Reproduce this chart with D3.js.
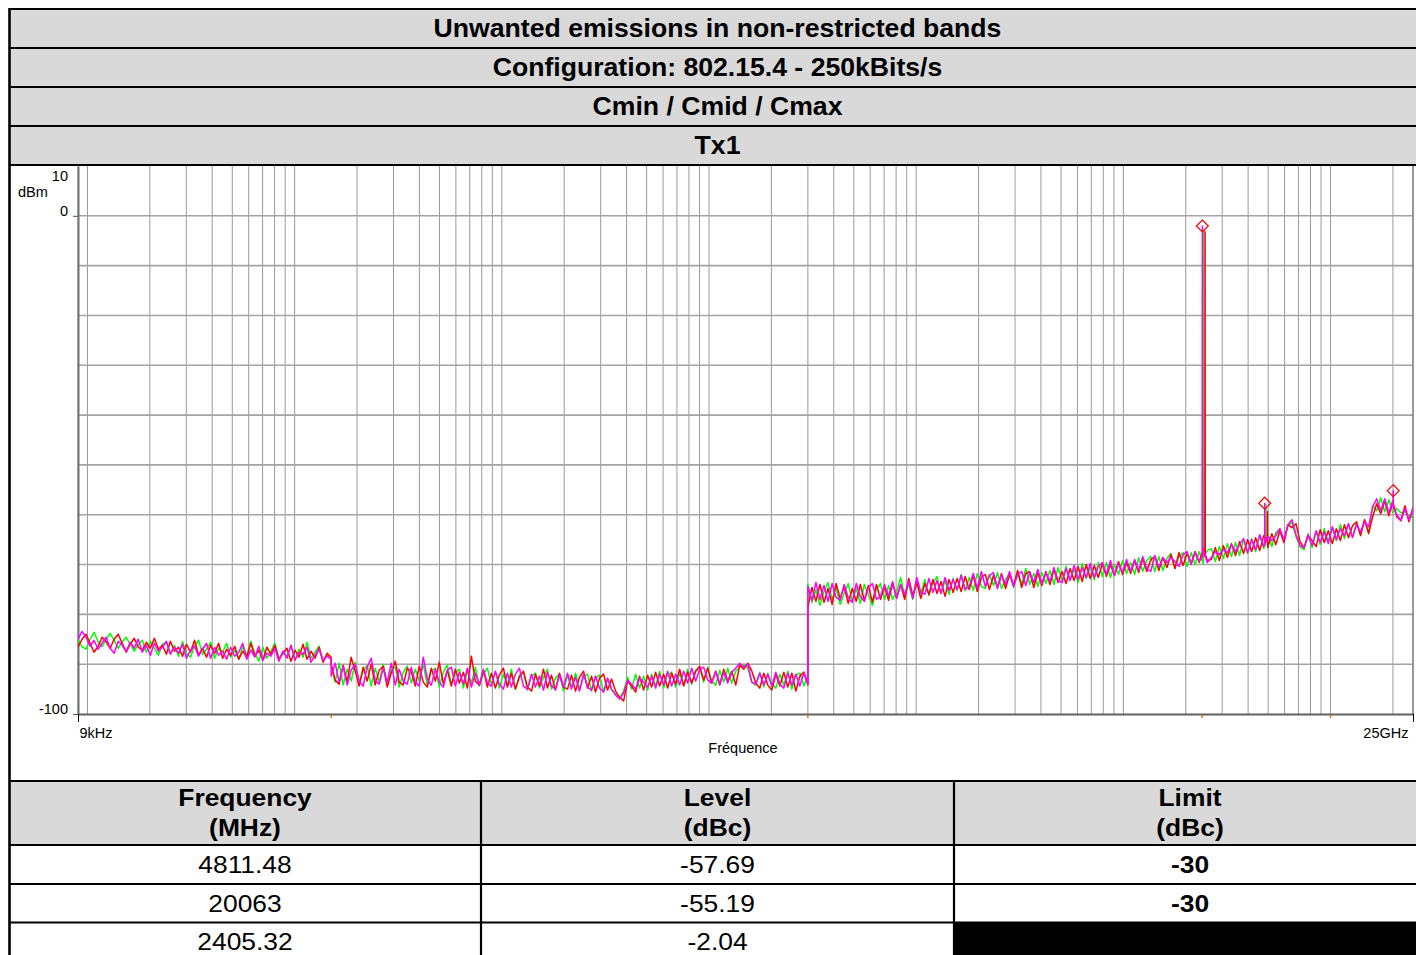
<!DOCTYPE html>
<html>
<head>
<meta charset="utf-8">
<script src="https://cdn.jsdelivr.net/npm/d3@7"></script>
<style>
  html, body { margin: 0; padding: 0; background: #fff; }
  svg { display: block; font-family: "Liberation Sans", Arial, sans-serif; }
</style>
</head>
<body>
<div id="chart"></div>
<script>
// ---- texts ----
const titleLines = ["Unwanted emissions in non-restricted bands", "Configuration: 802.15.4 - 250kBits/s", "Cmin / Cmid / Cmax", "Tx1"];
const yTickValues = [10, 0, -100];
const yUnit = "dBm";
const xTickValues = [0.009, 25000];          // MHz
const xTickLabels = ["9kHz", "25GHz"];
const xTitle = "Fréquence";
const bandEdgeTicks = [0.15, 30, 2400, 10000]; // MHz, small orange marks

// ---- sweep bands (MHz) ----
const bandsMHz = [[0.009, 0.15], [0.15, 30], [30, 25000]];

// ---- trace levels (dBm), one array per band ----
const greenA = [-85,-86.5,-87,-85,-83.6,-85.5,-86.5,-85,-83.8,-85.2,-86.8,-85.5,-84.6,-86,-87.4,-86,-85.2,-87.6,-85.4,-86.8,-88.2,-86,-85.6,-87.8,-86.2,-88.4,-85.5,-87.8,-88.6,-86.4,-85.2,-88,-87,-85.6,-88.8,-86.8,-87.6,-85.8,-88.6,-87.2,-89,-86.4,-88.2,-85.4,-87.8,-89.4,-86.6,-88.8,-87.4,-85.8,-89,-87.6,-88.4,-86.2,-89.2,-87,-88.6,-85.6,-88.8,-87.6,-86.4,-89.4,-88,-89.2];
const redA = [-86.6,-85,-84,-85.8,-87.6,-86.4,-84.6,-85.5,-86.8,-85,-84,-85.8,-87.6,-86,-84.8,-86.6,-87.2,-85.6,-86.8,-84.8,-87,-86.2,-88,-85.4,-87.4,-86.6,-88.4,-86,-87.6,-85.2,-88.2,-86.8,-88.6,-86.2,-87.8,-85.8,-88.8,-87,-88.2,-86.4,-89,-87.4,-88.6,-85.8,-88.4,-87.2,-89.2,-86.6,-88,-86.2,-89,-87.8,-86.8,-89.4,-87.2,-88.6,-86,-89,-87.4,-88.8,-86.6,-89.6,-87.8,-88.6];
const magentaA = [-85,-83.4,-84.6,-86.4,-85.2,-87,-85.8,-84.6,-86.8,-87.8,-85.4,-86.2,-87.4,-85.6,-86.8,-85,-87.6,-86.2,-88.2,-85.8,-87.4,-86.6,-85.4,-88,-86.6,-87.8,-86,-88.8,-87.2,-86.4,-88.4,-87,-85.8,-88.8,-86.6,-88.2,-87.4,-89,-86.6,-88.4,-87.6,-85.8,-89,-87.2,-88.6,-86.4,-89.2,-87.8,-88.4,-86.8,-89.4,-87.4,-88.8,-86.2,-89.2,-87.6,-88,-86.6,-89.6,-88.2,-87,-89.2,-88.4,-89];

const greenB = [-90.2,-93.6,-89.8,-94.2,-91,-93.4,-89.6,-93.8,-91.4,-90.2,-94.4,-90.8,-93.6,-90,-94,-91.2,-90.6,-94.6,-91.6,-90.4,
  -93.8,-91,-93.4,-90,-94.2,-91.4,-90.8,-94.6,-91.6,-90.2,-94,-91.8,-91,-94.8,-91.4,-93.8,-90.6,-94.4,-92,-90.8,
  -94.2,-91.6,-94.8,-92,-94.4,-91,-95,-92.2,-91.6,-95.2,-92.4,-91.8,-94.8,-92.6,-91,-95,-92.8,-92,-95.4,-92.2,
  -94.6,-91.8,-95,-92.6,-92,-95.4,-92.8,-92.2,-95.6,-93,-95.2,-96,-96.8,-95.4,-92.6,-95,-92,-94.8,-92.4,-95.2,
  -92,-94.4,-91.4,-94.8,-92.2,-91.6,-94.6,-91.8,-94.2,-91,-94,-91.2,-90.8,-93.6,-90.6,-93.4,-94.2,-91.2,-93.6,-90.8,
  -93.8,-91.4,-90.6,-90,-90.8,-93.6,-94.2,-91.6,-94.6,-91.8,-94,-94.8,-92,-94.2,-91.4,-95,-92.2,-91.8,-94.4,-92.2];
const redB = [-90,-93.2,-94,-90.2,-93.6,-88.6,-91.4,-94.4,-90.6,-93.4,-90,-94.2,-91.2,-90.4,-94.6,-91.8,-89.4,-93.6,-94.2,-90.8,
  -91.6,-94.4,-90.4,-93.6,-94.6,-90.8,-93.4,-89.6,-94,-91.2,-94.4,-91,-93.8,-91.6,-94.8,-88.4,-93.4,-94.2,-91.2,-94.6,
  -91.8,-94.8,-92.2,-90.8,-94.6,-91.8,-95,-92.6,-91.4,-94.6,-95.4,-92,-94.4,-91,-94.8,-92.2,-95.2,-91.8,-94.6,-95,
  -92.2,-95.4,-92.6,-91.4,-94.8,-92.4,-95.6,-92.8,-92,-95.2,-93,-95.4,-96.6,-97.4,-93.4,-94.4,-95.6,-92.4,-95.2,-92.2,
  -94.6,-91.6,-94.4,-92,-94.8,-91.8,-94,-91,-94.4,-91.6,-93.8,-91.4,-90.4,-93.2,-90.8,-93.8,-91.4,-94.2,-91,-93.4,
  -91.4,-94.2,-90.2,-91,-89.8,-91.4,-93.8,-94.8,-91.8,-94.2,-95.2,-92,-94.4,-91.6,-94.6,-91.8,-95.4,-92.4,-91.6,-94.2];
const magentaB = [-92.4,-89.8,-93.6,-90.4,-94.2,-91.2,-90,-93.4,-94.4,-90.6,-88.8,-93.2,-94,-90.8,-93.6,-89.8,-94.2,-91,-93.4,-94,
  -90.6,-93.6,-94.4,-88.6,-93,-94.2,-91,-93.6,-94.6,-91.2,-90.6,-94.4,-91.6,-94,-90.8,-94.6,-91.8,-94.2,-91,-93.8,
  -94.4,-91.4,-94,-95,-91.8,-94.6,-92,-90.8,-94.4,-95,-92,-94.6,-92.4,-95.2,-91.6,-94.4,-95,-92.2,-94.6,-91.8,
  -95,-92.6,-95.4,-92,-94.6,-95.2,-92.4,-94.8,-95.6,-92.8,-95,-96.2,-97,-95.8,-93.2,-94,-95,-92.8,-93.6,-94.6,
  -92.4,-94.8,-92,-94.2,-91.4,-94.4,-92,-94.2,-91.4,-93.8,-90.8,-93.4,-91,-90.6,-93.2,-93.8,-91.4,-94,-91.6,-93.8,
  -91.6,-90.8,-89.8,-90.6,-90,-93.6,-94,-91.8,-94.2,-92,-94.4,-91.6,-94,-94.8,-91.8,-94.2,-92,-94.4,-91.8,-94];

const greenC = [-74,-77.6,-75,-78.2,-75.4,-73.6,-77,-74.6,-78,-75.8,-73.8,-77.4,-74.8,-77.8,-74,-76,-78.2,-75,-73.8,-77,
  -74.2,-77,-75.4,-72.6,-76.4,-74,-77,-73.4,-75.8,-73,-76.2,-73.8,-72.4,-75.8,-73.2,-76,-72.8,-75.2,-72,-75.2,
  -72.6,-75.2,-71.8,-74.4,-74.8,-72,-74.2,-71.6,-74.8,-73,-71.8,-74.6,-71.4,-74,-70.8,-74,-71.8,-74.4,-71.6,-73.8,
  -71.2,-74,-70.6,-73.2,-70.4,-73,-71,-73.6,-69.8,-72.8,-70.6,-73,-69.6,-72.4,-69.6,-72.6,-70,-72,-69.2,-71.8,
  -69.6,-72,-68.6,-71.4,-69.2,-68.4,-71.4,-68.4,-71.2,-68.8,-67.8,-70.8,-68.4,-67.6,-70.4,-67.6,-70,-67.4,-69.8,-67.2,
  -66.8,-69.4,-66.4,-68.8,-65.8,-68.4,-65.6,-68.2,-65,-67.8,-64.8,-67.4,-64.2,-66.8,-64,-66.4,-63.6,-62.8,-65.4,-62.2,
  -61.6,-64.4,-66.4,-67,-63.8,-66.6,-63.4,-66,-62.8,-65.4,-62.6,-65.2,-62,-64.8,-61.8,-64.4,-61.6,-64,-61,-63.6,
  -58.2,-59.2,-56.6,-59.4,-57,-59.6,-58.8,-59.6,-59.4,-60.2,-60.6];
const redC = [-78.6,-74.6,-77.4,-74,-77.6,-74.8,-78,-73.8,-76.8,-74.4,-77.8,-74.8,-77.4,-74,-77.2,-74.2,-77.6,-74,-77,-74.4,
  -77.2,-73.8,-76.6,-74,-77,-72.8,-76.2,-73.6,-76.8,-73.8,-76,-73,-75.8,-73.4,-76.4,-73,-75.6,-72.8,-75.4,-72.4,
  -75,-72.2,-75.4,-72.6,-72,-75,-72.2,-74.6,-71.8,-74.8,-72,-74.2,-71.2,-74.6,-71.8,-71.4,-74.6,-71.6,-74.2,-71.4,
  -74,-71,-73.6,-71.4,-73.8,-70.8,-73.2,-70.4,-73.4,-70,-72.8,-70.2,-72.6,-69.8,-72.4,-70,-72.2,-69.4,-72,-69.6,
  -71.8,-69.2,-71.6,-68.8,-71.4,-69,-68.4,-71.2,-68.6,-70.6,-68,-70.8,-67.6,-70.2,-67.8,-69.8,-67.4,-69.6,-66.8,-69.2,
  -69,-66.6,-69.2,-66.2,-68.6,-65.8,-68.2,-65.4,-67.8,-65,-67.4,-64.6,-67.2,-64.2,-66.6,-63.8,-66,-63.2,-65.6,-62,
  -62.6,-61.8,-65.4,-66.6,-64.2,-65.2,-66.4,-63,-65.6,-63.2,-65.8,-62.8,-65.2,-62,-64.6,-62.2,-61.4,-64.2,-61,-63.8,
  -60.4,-57.8,-59.8,-57.2,-60.2,-57.4,-60.4,-61.2,-58.2,-61.4,-58.6];
const magentaC = [-74.4,-77.2,-73.6,-77,-74.2,-77.4,-73.8,-76.6,-77.2,-74,-76.6,-77.6,-73.8,-76.4,-77.4,-74.6,-73.8,-77,-76.4,-74,
  -76.4,-73.4,-76.8,-74,-76,-73.4,-76.8,-72.6,-75.6,-76,-72.8,-75.6,-73.2,-75.8,-72.6,-75.2,-73,-75,-72.2,-75,
  -74.4,-71.8,-74.8,-71.4,-74.4,-72.2,-71.6,-74.8,-72,-74,-71.4,-74.4,-72,-71.4,-74.2,-71.6,-73.6,-71,-73.8,-71.6,
  -73.4,-70.6,-73.2,-73.6,-70.8,-73.2,-70.2,-73,-70.6,-72.6,-69.8,-72.6,-70.4,-69.6,-72,-69.2,-72.2,-69.8,-71.6,-69,
  -71.4,-69,-71.2,-68.4,-70.8,-71.4,-68.2,-70.6,-68.6,-69.6,-68.6,-69.4,-70.4,-68,-67.4,-70,-67.6,-69.4,-67,-69.6,
  -68.6,-67.4,-68,-67,-67.6,-66,-67.4,-66,-64.8,-67.6,-65,-67,-64,-66.4,-64.4,-65.2,-64.2,-62.8,-65,-62,
  -61,-64,-66.2,-66.6,-64,-66.2,-63.2,-65.6,-63.4,-65.8,-62.4,-65,-62.8,-64.2,-61.8,-64.6,-62,-63.4,-61.4,-62.4,
  -58.4,-56.8,-59.2,-56.8,-59.6,-57.2,-60,-61.2,-58.8,-61,-58.8];

// carrier / harmonic spikes [MHz, dBm]
const greenSpikes = [[2435, -68.6], [2440, -2.8], [2445, -68.4], [4875, -65.6], [4880, -58], [4885, -65.4]];
const redSpikes = [[2475, -68.4], [2480, -3.2], [2485, -68], [4955, -65.2], [4960, -59.4], [4965, -65]];
const magentaSpikes = [[2400, -68.6], [2405.32, -2.04], [2410, -68.4], [4806, -66], [4811.48, -57.69], [4816, -65.8], [20040, -58.4], [20063, -55.19], [20085, -58.6]];

// ---- markers / table ----
const markerFreqs = [4811.48, 20063, 2405.32];
const markerLevels = [-57.69, -55.19, -2.04];
const limitLevels = [-30, -30, null];
const tableHeaders = [["Frequency", "(MHz)"], ["Level", "(dBc)"], ["Limit", "(dBc)"]];

// ---- layout ----
const W = 1416, H = 955;
const frameL = 9, frameR = 1426;
const titleTop = 9, titleRowH = 39;
const tableTop = 781;
const tableRows = [tableTop, 845, 884, 922.5, 961];
const tableCols = [frameL, 481, 954, frameR];
const plot = { left: 78, right: 1413, top: 166, bottom: 714 };

const svg = d3.select("#chart").append("svg")
  .attr("width", W).attr("height", H);

// title rows
const titles = svg.append("g");
titles.selectAll("rect").data(titleLines).enter().append("rect")
  .attr("x", frameL).attr("y", (d, i) => titleTop + i * titleRowH)
  .attr("width", frameR - frameL).attr("height", titleRowH)
  .attr("fill", "#d9d9d9");
titles.selectAll("text").data(titleLines).enter().append("text")
  .attr("transform", (d, i) => `translate(${(frameL + frameR) / 2},${titleTop + i * titleRowH + titleRowH / 2 + 8.8}) scale(1.065,1)`)
  .attr("text-anchor", "middle")
  .attr("font-size", 25).attr("font-weight", "bold")
  .text(d => d);
titles.selectAll("line").data(d3.range(titleLines.length + 1)).enter().append("line")
  .attr("x1", frameL).attr("x2", frameR)
  .attr("y1", i => titleTop + i * titleRowH).attr("y2", i => titleTop + i * titleRowH)
  .attr("stroke", "#000").attr("stroke-width", 2.2);

// scales
const x = d3.scaleLog().domain([0.009, 25000]).range([plot.left, plot.right]);
const y = d3.scaleLinear().domain([10, -100]).range([plot.top, plot.bottom]);

// grid
const grid = svg.append("g");
grid.selectAll("line.v").data(x.ticks()).enter().append("line")
  .attr("class", "v")
  .attr("x1", d => x(d)).attr("x2", d => x(d))
  .attr("y1", plot.top).attr("y2", plot.bottom)
  .attr("stroke", "#9a9a9a").attr("stroke-width", 1);
grid.selectAll("line.h").data(y.ticks(11).filter(d => d < 10 && d > -100)).enter().append("line")
  .attr("class", "h")
  .attr("x1", plot.left).attr("x2", plot.right)
  .attr("y1", d => y(d)).attr("y2", d => y(d))
  .attr("stroke", "#a4a4a4").attr("stroke-width", 1.6);

svg.append("line").attr("x1", plot.right).attr("x2", plot.right)
  .attr("y1", plot.top).attr("y2", plot.bottom)
  .attr("stroke", "#777").attr("stroke-width", 1.5);

// axes
const yAxis = svg.append("g")
  .attr("transform", `translate(${plot.left},0)`)
  .call(d3.axisLeft(y).tickValues(yTickValues).tickFormat(d => String(d))
    .tickSize(5).tickSizeOuter(0).tickPadding(5));
yAxis.select(".domain").attr("stroke", "#707070").attr("stroke-width", 2);
yAxis.selectAll(".tick line").attr("stroke", "#555");
yAxis.selectAll(".tick text").attr("font-size", 14.5).attr("font-family", "'Liberation Sans', Arial, sans-serif")
  .attr("dy", "-0.05em").attr("fill", "#000");
yAxis.selectAll(".tick").filter(d => d === 10).select("line").remove();
yAxis.selectAll(".tick").filter(d => d === 10).select("text").attr("dy", "1.0em");
svg.append("text").attr("x", 18).attr("y", 197)
  .attr("font-size", 14.5).text(yUnit);

const xAxis = svg.append("g")
  .attr("transform", `translate(0,${plot.bottom})`)
  .call(d3.axisBottom(x).tickValues(xTickValues).tickFormat((d, i) => xTickLabels[i]).tickSize(8).tickSizeOuter(0).tickPadding(6));
xAxis.select(".domain").attr("stroke", "#606060").attr("stroke-width", 2);
xAxis.selectAll(".tick line").attr("stroke", "#000");
xAxis.selectAll(".tick text").attr("font-size", 14.5).attr("font-family", "'Liberation Sans', Arial, sans-serif")
  .attr("fill", "#000")
  .attr("text-anchor", (d, i) => i === 0 ? "start" : "end")
  .attr("dx", (d, i) => i === 0 ? 1 : -5);
svg.append("text").attr("x", 743).attr("y", 753)
  .attr("text-anchor", "middle").attr("font-size", 14.5).text(xTitle);

svg.append("g").selectAll("line").data(bandEdgeTicks).enter().append("line")
  .attr("x1", d => x(d)).attr("x2", d => x(d))
  .attr("y1", plot.bottom + 1).attr("y2", plot.bottom + 4)
  .attr("stroke", "#e07a10").attr("stroke-width", 1.5);

// traces
const traces = [
  { color: "#00ff00", bands: [greenA, greenB, greenC], spikes: greenSpikes },
  { color: "#ff0000", bands: [redA, redB, redC], spikes: redSpikes },
  { color: "#ff00ff", bands: [magentaA, magentaB, magentaC], spikes: magentaSpikes }
];

function tracePoints(t) {
  let pts = [];
  t.bands.forEach((levels, b) => {
    const [f0, f1] = bandsMHz[b];
    let bandPts = levels.map((v, i) => [f0 * Math.pow(f1 / f0, i / (levels.length - 1)), v]);
    const extra = t.spikes.filter(s => s[0] > f0 && s[0] < f1);
    bandPts = bandPts.concat(extra).sort((a, b) => a[0] - b[0]);
    pts = pts.concat(bandPts);
  });
  return pts;
}

svg.append("clipPath").attr("id", "plotClip").append("rect")
  .attr("x", plot.left).attr("y", plot.top)
  .attr("width", plot.right - plot.left).attr("height", plot.bottom - plot.top);

const line = d3.line().x(d => x(d[0])).y(d => y(d[1]));
svg.append("g").attr("clip-path", "url(#plotClip)")
  .selectAll("path").data(traces).enter().append("path")
  .attr("d", d => line(tracePoints(d)))
  .attr("fill", "none")
  .attr("stroke", d => d.color)
  .attr("stroke-width", 1.5)
  .attr("stroke-linejoin", "round");

// markers
const mk = 6;
svg.append("g").selectAll("path").data(markerFreqs).enter().append("path")
  .attr("transform", (d, i) => `translate(${x(d)},${y(markerLevels[i])})`)
  .attr("d", `M0,${-mk}L${mk},0L0,${mk}L${-mk},0Z`)
  .attr("fill", "none").attr("stroke", "#ff0000").attr("stroke-width", 1.2);

// table
const table = svg.append("g");
table.append("rect").attr("x", frameL).attr("y", tableRows[0])
  .attr("width", frameR - frameL).attr("height", tableRows[1] - tableRows[0])
  .attr("fill", "#d9d9d9");
limitLevels.forEach((v, i) => {
  if (v === null) {
    table.append("rect").attr("x", tableCols[2]).attr("y", tableRows[i + 1])
      .attr("width", tableCols[3] - tableCols[2]).attr("height", tableRows[i + 2] - tableRows[i + 1])
      .attr("fill", "#000");
  }
});
const colCenters = d3.range(3).map(i => (tableCols[i] + tableCols[i + 1]) / 2);
tableHeaders.forEach((lines, c) => {
  lines.forEach((t, k) => {
    table.append("text")
      .attr("transform", `translate(${colCenters[c]},${806 + k * 30}) scale(1.1,1)`)
      .attr("text-anchor", "middle").attr("font-size", 24).attr("font-weight", "bold")
      .text(t);
  });
});
const rows = markerFreqs.map((f, i) => [String(f), markerLevels[i].toFixed(2), limitLevels[i]]);
rows.forEach((r, i) => {
  const cy = (tableRows[i + 1] + tableRows[i + 2]) / 2;
  r.forEach((v, c) => {
    if (v === null) return;
    table.append("text")
      .attr("transform", `translate(${colCenters[c]},${cy + 8.6}) scale(1.1,1)`)
      .attr("text-anchor", "middle").attr("font-size", 24)
      .attr("font-weight", c === 2 ? "bold" : "normal")
      .text(v);
  });
});
table.selectAll("line.r").data(tableRows.slice(0, 4)).enter().append("line")
  .attr("x1", frameL).attr("x2", frameR).attr("y1", d => d).attr("y2", d => d)
  .attr("stroke", "#000").attr("stroke-width", 2.2);
table.selectAll("line.c").data(tableCols.slice(1, 3)).enter().append("line")
  .attr("x1", d => d).attr("x2", d => d).attr("y1", tableRows[0]).attr("y2", H)
  .attr("stroke", "#000").attr("stroke-width", 2.2);

// left frame border
svg.append("line").attr("x1", frameL + 0.5).attr("x2", frameL + 0.5)
  .attr("y1", titleTop - 1).attr("y2", H)
  .attr("stroke", "#000").attr("stroke-width", 2.6);
</script>
</body>
</html>
